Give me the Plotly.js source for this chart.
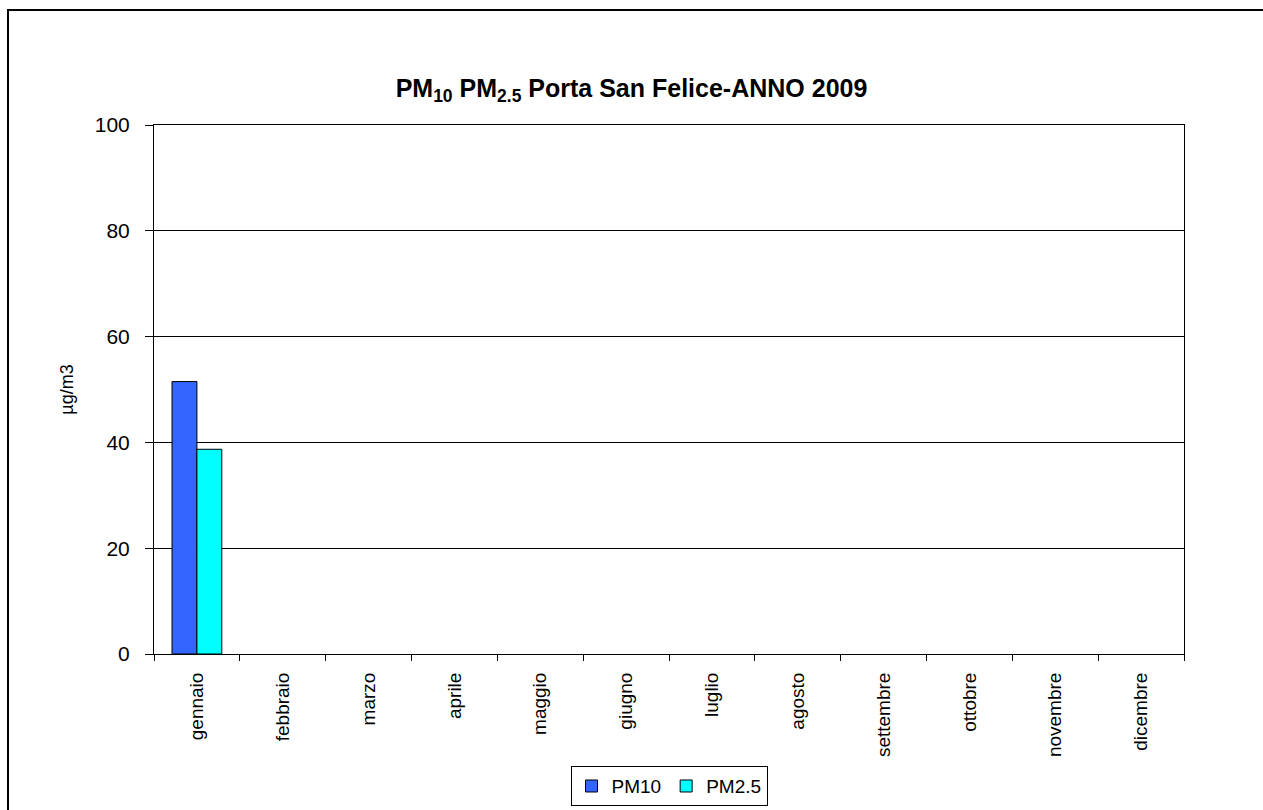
<!DOCTYPE html>
<html>
<head>
<meta charset="utf-8">
<script src="https://cdn.plot.ly/plotly-3.0.1.min.js"></script>
<style>
  html, body { margin: 0; padding: 0; background: #fff; }
  #frame { position: absolute; left: 7px; top: 9px; width: 1300px; height: 900px; border-left: 2px solid #000; border-top: 2px solid #000; pointer-events: none; z-index: 10; }
  #chart { position: absolute; left: 0; top: 0; width: 1263px; height: 810px; }
</style>
</head>
<body>
<div id="chart"></div>
<div id="frame"></div>
<script>
const months = ["gennaio", "febbraio", "marzo", "aprile", "maggio", "giugno", "luglio", "agosto", "settembre", "ottobre", "novembre", "dicembre"];
const pm10 = [51.5, null, null, null, null, null, null, null, null, null, null, null];
const pm25 = [38.7, null, null, null, null, null, null, null, null, null, null, null];
const yTicks = [0, 20, 40, 60, 80, 100];

const font = "Liberation Sans, Arial, sans-serif";

const traces = [
  { type: "bar", name: "PM10", x: months, y: pm10,
    marker: { color: "#3366FF", line: { color: "#000", width: 1 } } },
  { type: "bar", name: "PM2.5", x: months, y: pm25,
    marker: { color: "#00FFFF", line: { color: "#000", width: 1 } } }
];

const layout = {
  width: 1263, height: 810,
  margin: { l: 154, r: 79, t: 125, b: 156, autoexpand: false },
  paper_bgcolor: "#fff", plot_bgcolor: "#fff",
  font: { family: font, color: "#000" },
  title: { text: "<b>PM<sub>10</sub> PM<sub>2.5</sub> Porta San Felice-ANNO 2009</b>",
           font: { size: 25, family: font }, x: 0.5, xanchor: "center", y: 1 - 88/810, yanchor: "middle" },
  barmode: "group", bargap: 0.42, bargroupgap: 0,
  showlegend: true,
  legend: { orientation: "h", x: 0.5, xanchor: "center", y: -0.212, yanchor: "top",
            bordercolor: "#000", borderwidth: 1, font: { size: 19, family: font },
            itemwidth: 30, tracegroupgap: 0 },
  xaxis: { type: "category", showline: true, linecolor: "#000", linewidth: 1, mirror: true,
           ticks: "outside", tickson: "boundaries", ticklen: 6, tickcolor: "#000",
           tickangle: -90, tickfont: { size: 19, family: font }, showgrid: false,
           ticklabelstandoff: 10, automargin: false },
  yaxis: { range: [0, 100], tickvals: yTicks, showline: true, linecolor: "#000", linewidth: 1, mirror: true,
           ticks: "outside", ticklen: 8, tickcolor: "#000", tickfont: { size: 21, family: font },
           ticklabelstandoff: 11, automargin: false,
           showgrid: true, gridcolor: "#000", gridwidth: 1, zeroline: false,
           title: { text: "µg/m3", font: { size: 18, family: font }, standoff: 16 } }
};

Plotly.newPlot("chart", traces, layout, { displayModeBar: false, staticPlot: true });
</script>
</body>
</html>
